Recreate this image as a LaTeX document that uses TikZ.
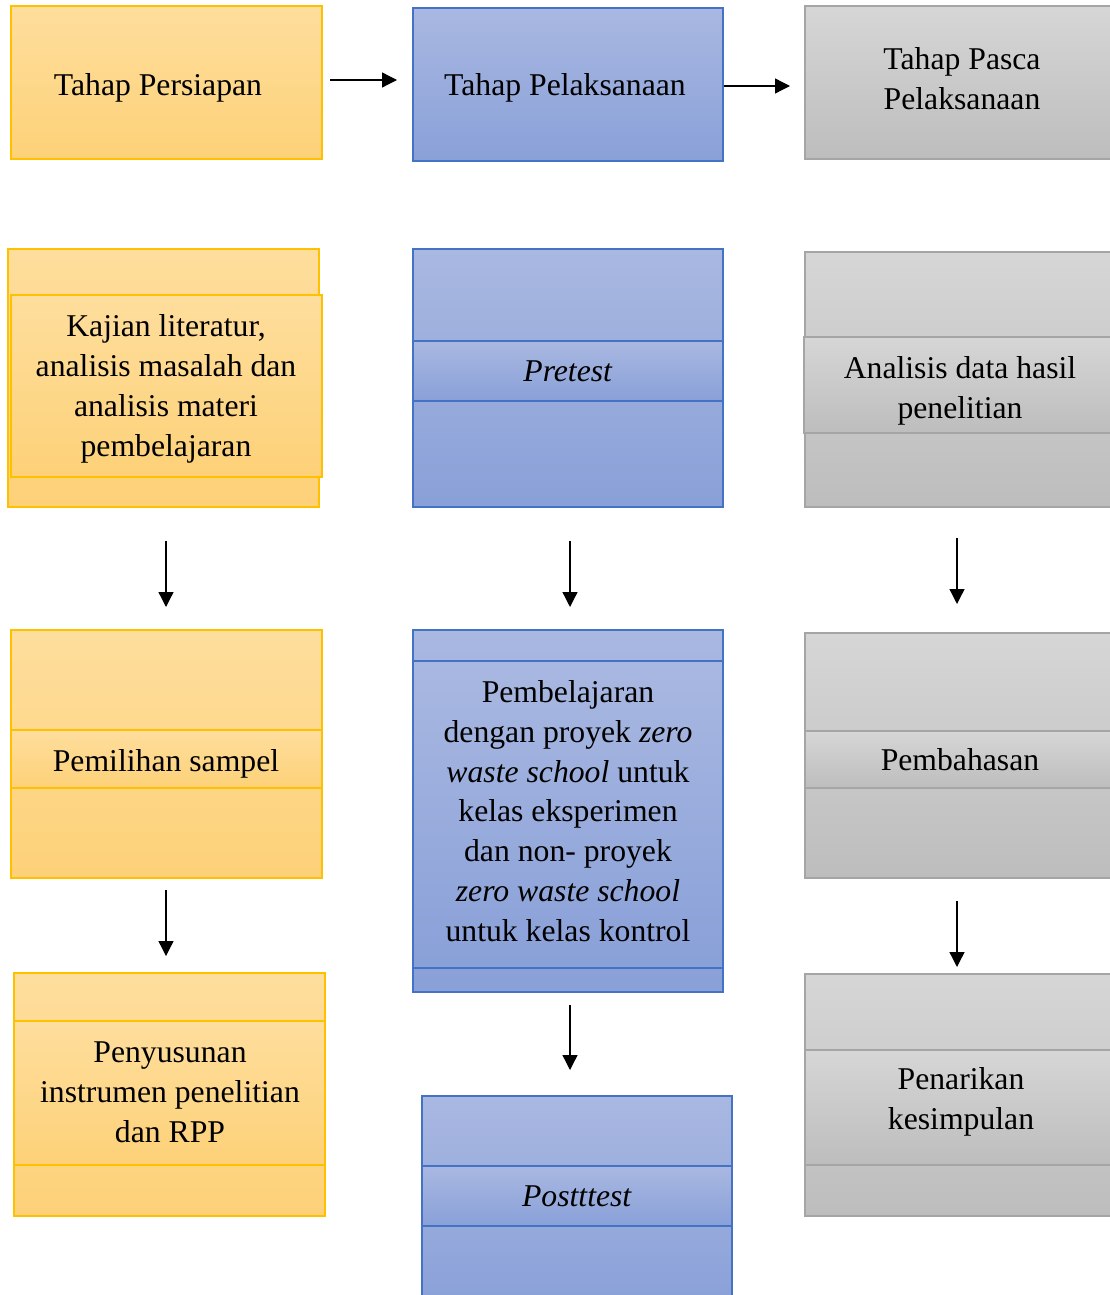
\documentclass[tikz,border=0pt]{standalone}
\usepackage{fontspec}
\setmainfont{Liberation Serif}
\usetikzlibrary{arrows.meta}
\definecolor{oTop}{RGB}{254,222,157}
\definecolor{oBot}{RGB}{253,209,120}
\definecolor{oLine}{RGB}{255,192,0}
\definecolor{bTop}{RGB}{169,184,225}
\definecolor{bBot}{RGB}{137,160,216}
\definecolor{bLine}{RGB}{68,114,196}
\definecolor{gTop}{RGB}{214,214,214}
\definecolor{gBot}{RGB}{189,189,189}
\definecolor{gLine}{RGB}{165,165,165}
\tikzset{
  pbox/.style={draw, line width=1.2pt, anchor=north west, inner sep=0pt, outer sep=0pt},
  obox/.style={pbox, draw=oLine, top color=oTop, bottom color=oBot},
  bbox/.style={pbox, draw=bLine, top color=bTop, bottom color=bBot},
  gbox/.style={pbox, draw=gLine, top color=gTop, bottom color=gBot},
  lbl/.style={align=center, inner sep=0pt, font=\fontsize{31.7}{39.8}\selectfont},
  flow/.style={-{Triangle[length=15pt,width=15pt]}, line width=1.3pt},
}
\begin{document}
\begin{tikzpicture}[x=1pt,y=-1pt]
\useasboundingbox (0,0) rectangle (1110,1295);
% Row 1
\node[obox, minimum width=311pt, minimum height=153pt] (p1) at (11,6) {};
\node[lbl] (tp1) at (158,88) {Tahap Persiapan};
\node[bbox, minimum width=310pt, minimum height=153pt] (l1) at (413,8) {};
\node[lbl] (tl1) at (565,88) {Tahap Pelaksanaan};
\node[gbox, minimum width=311pt, minimum height=153pt] (s1) at (805,6) {};
\node[lbl] (ts1) at (962,79) {Tahap Pasca\\Pelaksanaan};
% Row 2
\node[obox, minimum width=311pt, minimum height=258pt] (p2) at (8,249) {};
\node[obox, minimum width=311pt, minimum height=182pt] (p2i) at (11,295) {};
\node[lbl] (tp2) at (166,389) {Kajian literatur,\\analisis masalah dan\\analisis materi\\pembelajaran};
\node[bbox, minimum width=310pt, minimum height=258pt] (l2) at (413,249) {};
\node[bbox, minimum width=310pt, minimum height=60pt] (l2i) at (413,341) {};
\node[lbl] (tl2) at (568,371) {\textit{Pretest}};
\node[gbox, minimum width=311pt, minimum height=255pt] (s2) at (805,252) {};
\node[gbox, minimum width=312pt, minimum height=96pt] (s2i) at (804,337) {};
\node[lbl] (ts2) at (960,391) {Analisis data hasil\\penelitian};
% Row 3
\node[obox, minimum width=311pt, minimum height=248pt] (p3) at (11,630) {};
\node[obox, minimum width=311pt, minimum height=58pt] (p3i) at (11,730) {};
\node[lbl] (tp3) at (166,764) {Pemilihan sampel};
\node[bbox, minimum width=310pt, minimum height=362pt] (l3) at (413,630) {};
\node[bbox, minimum width=310pt, minimum height=307pt] (l3i) at (413,661) {};
\node[lbl] (tl3) at (568,811) {Pembelajaran\\dengan proyek \textit{zero}\\\textit{waste school} untuk\\kelas eksperimen\\dan non- proyek\\\textit{zero waste school}\\untuk kelas kontrol};
\node[gbox, minimum width=311pt, minimum height=245pt] (s3) at (805,633) {};
\node[gbox, minimum width=311pt, minimum height=57pt] (s3i) at (805,731) {};
\node[lbl] (ts3) at (960,760) {Pembahasan};
% Row 4
\node[obox, minimum width=311pt, minimum height=243pt] (p4) at (14,973) {};
\node[obox, minimum width=311pt, minimum height=144pt] (p4i) at (14,1021) {};
\node[lbl] (tp4) at (170,1092) {Penyusunan\\instrumen penelitian\\dan RPP};
\node[bbox, minimum width=310pt, minimum height=210pt] (l4) at (422,1096) {};
\node[bbox, minimum width=310pt, minimum height=60pt] (l4i) at (422,1166) {};
\node[lbl] (tl4) at (577,1196) {\textit{Postttest}};
\node[gbox, minimum width=311pt, minimum height=242pt] (s4) at (805,974) {};
\node[gbox, minimum width=311pt, minimum height=115pt] (s4i) at (805,1050) {};
\node[lbl] (ts4) at (961,1102) {Penarikan\\kesimpulan};
% connectors
\coordinate (a1s) at (330,80);  \coordinate (a1e) at (397,80);
\coordinate (a2s) at (724,86);  \coordinate (a2e) at (790,86);
\coordinate (a3s) at (166,541); \coordinate (a3e) at (166,607);
\coordinate (a4s) at (570,541); \coordinate (a4e) at (570,607);
\coordinate (a5s) at (957,538); \coordinate (a5e) at (957,604);
\coordinate (a6s) at (166,890); \coordinate (a6e) at (166,956);
\coordinate (a7s) at (570,1005); \coordinate (a7e) at (570,1070);
\coordinate (a8s) at (957,901); \coordinate (a8e) at (957,967);
\draw[flow] (a1s) -- (a1e);
\draw[flow] (a2s) -- (a2e);
\draw[flow] (a3s) -- (a3e);
\draw[flow] (a4s) -- (a4e);
\draw[flow] (a5s) -- (a5e);
\draw[flow] (a6s) -- (a6e);
\draw[flow] (a7s) -- (a7e);
\draw[flow] (a8s) -- (a8e);
\end{tikzpicture}
\end{document}
